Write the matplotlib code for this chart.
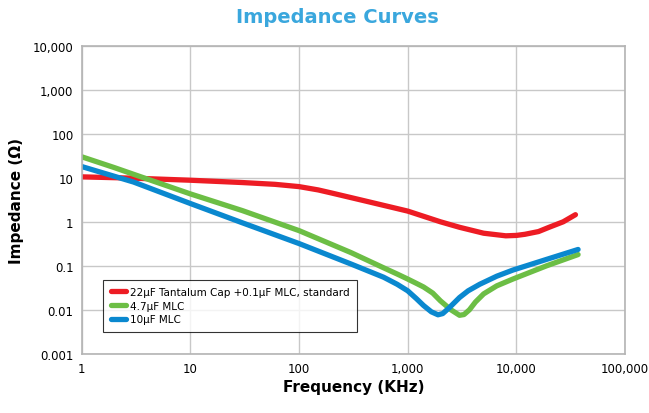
import numpy as np
import matplotlib.pyplot as plt
from matplotlib.ticker import FixedLocator, FixedFormatter, NullLocator

# данные (частота в кГц, импеданс в Ом)
red_f = [1, 3, 10, 30, 60, 100, 150, 200, 400, 1000, 2000, 3000, 5000, 8000, 10000,
         12000, 16000, 20000, 27000, 35000]
red_z = [10.5, 9.8, 8.8, 7.8, 7.1, 6.3, 5.3, 4.5, 3.0, 1.75, 1.0, 0.75, 0.55, 0.48, 0.49,
         0.52, 0.6, 0.75, 1.0, 1.45]

green_f = [1, 2, 3, 10, 30, 100, 300, 600, 800, 1000, 1200, 1400, 1700, 2000, 2500,
           3000, 3300, 3700, 4200, 5000, 6600, 9300, 19000, 37000]
green_z = [30, 17, 12, 4.3, 1.8, 0.63, 0.2, 0.09, 0.065, 0.05, 0.04, 0.033, 0.024,
           0.016, 0.01, 0.0075, 0.0078, 0.01, 0.015, 0.023, 0.035, 0.05, 0.1, 0.18]

blue_f = [1, 3, 10, 30, 100, 300, 600, 800, 1000, 1200, 1400, 1650, 1900, 2100, 2400,
          3000, 3600, 4600, 6600, 9300, 19000, 37000]
blue_z = [18, 8, 2.6, 0.95, 0.32, 0.11, 0.055, 0.038, 0.027, 0.018, 0.0125, 0.009,
          0.0077, 0.0082, 0.011, 0.019, 0.027, 0.038, 0.058, 0.08, 0.14, 0.235]

labels = ['22µF Tantalum Cap +0.1µF MLC, standard', '4.7µF MLC', '10µF MLC']
colors = ['#ED1C24', '#6CBE45', '#0A88CF']

x_ticks = [1, 10, 100, 1000, 10000, 100000]
x_labels = ['1', '10', '100', '1,000', '10,000', '100,000']
y_ticks = [0.001, 0.01, 0.1, 1, 10, 100, 1000, 10000]
y_labels = ['0.001', '0.01', '0.1', '1', '10', '100', '1,000', '10,000']

fig = plt.figure(figsize=(6.49, 4.14), dpi=100)
ax = fig.add_axes([0.126, 0.143, 0.837, 0.744])

for f, z, c, lab in zip([red_f, green_f, blue_f], [red_z, green_z, blue_z], colors, labels):
    ax.plot(f, z, color=c, lw=3.8, label=lab, solid_capstyle='round', solid_joinstyle='round')

ax.set_xscale('log')
ax.set_yscale('log')
ax.set_xlim(1, 100000)
ax.set_ylim(0.001, 10000)

ax.xaxis.set_major_locator(FixedLocator(x_ticks))
ax.xaxis.set_major_formatter(FixedFormatter(x_labels))
ax.yaxis.set_major_locator(FixedLocator(y_ticks))
ax.yaxis.set_major_formatter(FixedFormatter(y_labels))
ax.xaxis.set_minor_locator(NullLocator())
ax.yaxis.set_minor_locator(NullLocator())
ax.tick_params(length=0, labelsize=8.5, pad=6)

ax.grid(True, color='#c8c8c8', lw=1)
ax.set_axisbelow(True)
for s in ax.spines.values():
    s.set_color('#b4b4b4')
    s.set_linewidth(1.2)

ax.set_xlabel('Frequency (KHz)', fontsize=11, fontweight='bold', labelpad=3)
ax.set_ylabel('Impedance (Ω)', fontsize=11, fontweight='bold', labelpad=6)
fig.text(0.52, 0.957, 'Impedance Curves', ha='center', va='center',
         fontsize=14, fontweight='bold', color='#3AA7DD')

leg = ax.legend(loc='lower left', bbox_to_anchor=(0.03, 0.055), fontsize=7.5,
                frameon=True, fancybox=False, edgecolor='black', handlelength=1.5,
                handletextpad=0.4, borderpad=0.7, labelspacing=0.35)
leg.get_frame().set_linewidth(0.8)

fig.savefig('out.png', dpi=100)
